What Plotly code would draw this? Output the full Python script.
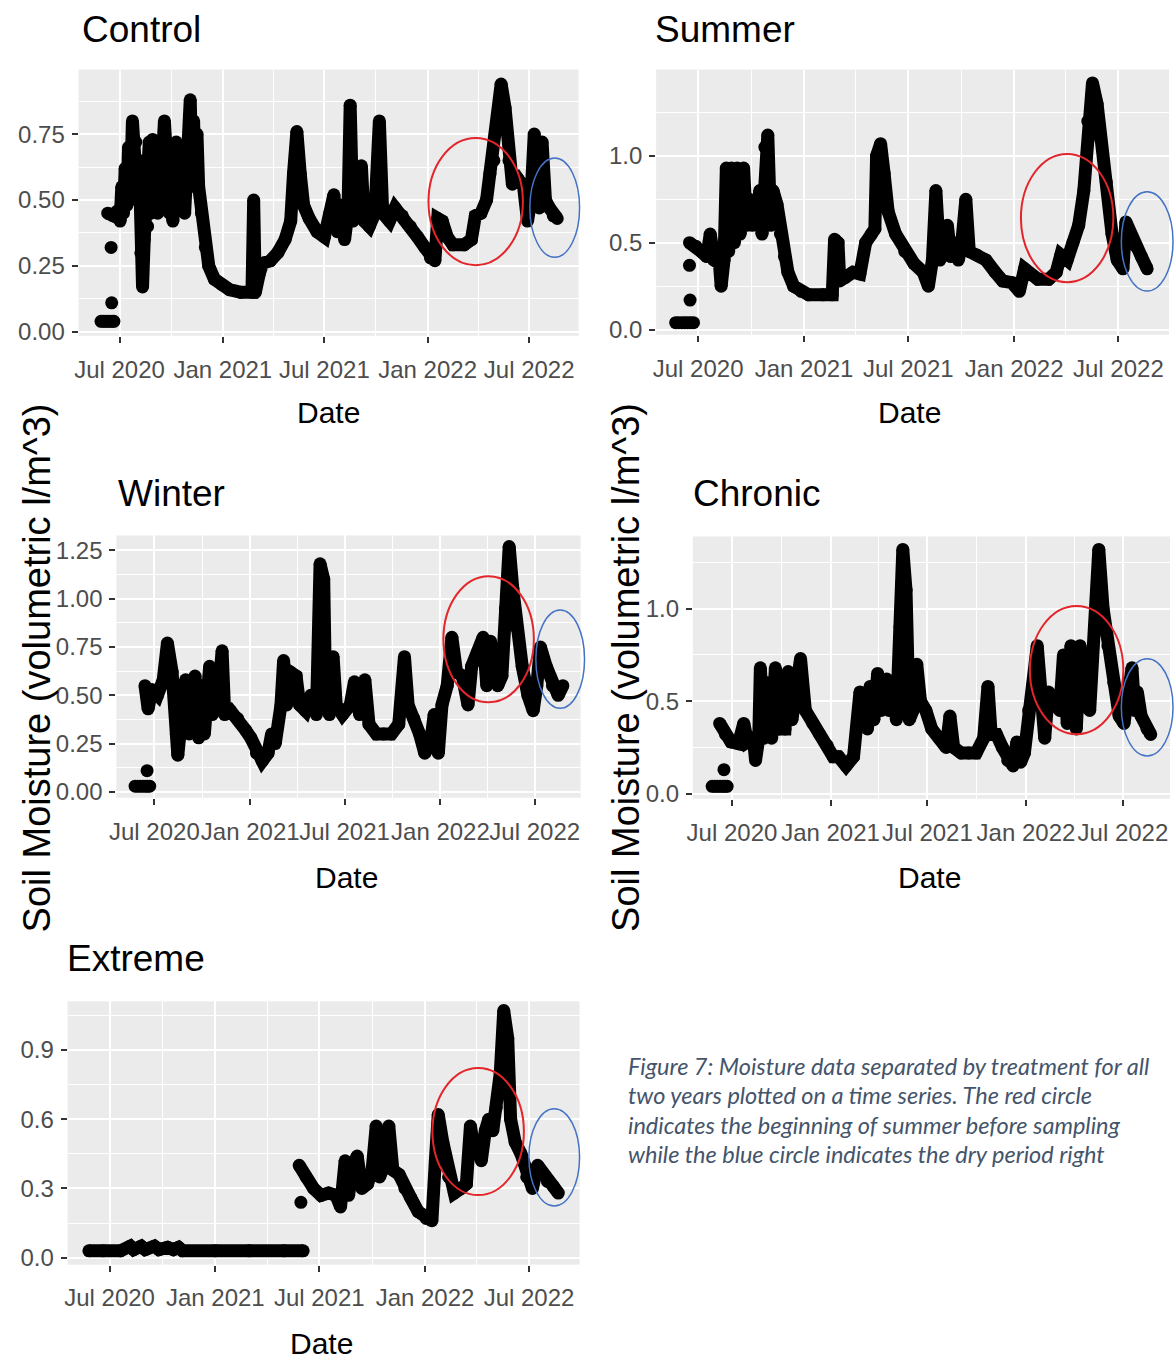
import plotly.graph_objects as go

# ---------------- DATA ----------------
control_early_dates = ["2020-05-29", "2020-06-02", "2020-06-06", "2020-06-10", "2020-06-14", "2020-06-18", "2020-06-21", "2020-06-17", "2020-06-16"]
control_early_values = [0.04, 0.04, 0.04, 0.04, 0.04, 0.04, 0.04, 0.11, 0.32]
control_dates = ["2020-06-10", "2020-06-20", "2020-06-28", "2020-07-02", "2020-07-05", "2020-07-08", "2020-07-11", "2020-07-14", "2020-07-17", "2020-07-20", "2020-07-24", "2020-07-27", "2020-07-30", "2020-08-02", "2020-08-05", "2020-08-08", "2020-08-11", "2020-08-14", "2020-08-17", "2020-08-20", "2020-08-23", "2020-08-26", "2020-08-29", "2020-09-01", "2020-09-04", "2020-09-07", "2020-09-10", "2020-09-13", "2020-09-16", "2020-09-19", "2020-09-22", "2020-09-25", "2020-09-28", "2020-10-01", "2020-10-04", "2020-10-07", "2020-10-10", "2020-10-13", "2020-10-16", "2020-10-19", "2020-10-22", "2020-10-25", "2020-10-28", "2020-11-01", "2020-11-04", "2020-11-07", "2020-11-10", "2020-11-13", "2020-11-16", "2020-11-19", "2020-11-24", "2020-12-01", "2020-12-07", "2020-12-17", "2020-12-30", "2021-01-13", "2021-02-02", "2021-02-22", "2021-02-25", "2021-02-28", "2021-03-07", "2021-03-13", "2021-03-27", "2021-04-09", "2021-04-22", "2021-05-02", "2021-05-07", "2021-05-13", "2021-05-19", "2021-05-25", "2021-06-04", "2021-06-18", "2021-07-01", "2021-07-11", "2021-07-18", "2021-07-24", "2021-07-31", "2021-08-06", "2021-08-12", "2021-08-16", "2021-08-21", "2021-08-30", "2021-09-05", "2021-09-10", "2021-09-19", "2021-09-29", "2021-10-07", "2021-10-13", "2021-10-25", "2021-11-04", "2021-11-17", "2021-12-01", "2021-12-14", "2021-12-27", "2022-01-06", "2022-01-14", "2022-01-19", "2022-01-27", "2022-02-05", "2022-02-15", "2022-03-07", "2022-03-20", "2022-03-27", "2022-04-06", "2022-04-16", "2022-04-22", "2022-04-29", "2022-05-06", "2022-05-12", "2022-05-19", "2022-05-26", "2022-06-01", "2022-06-11", "2022-06-21", "2022-06-28", "2022-07-04", "2022-07-10", "2022-07-14", "2022-07-19", "2022-07-24", "2022-07-30", "2022-08-06", "2022-08-13", "2022-08-20"]
control_values = [0.45, 0.44, 0.46, 0.42, 0.55, 0.45, 0.62, 0.48, 0.7, 0.5, 0.8, 0.55, 0.72, 0.5, 0.65, 0.3, 0.17, 0.35, 0.6, 0.4, 0.72, 0.45, 0.73, 0.5, 0.7, 0.45, 0.72, 0.48, 0.68, 0.8, 0.5, 0.65, 0.45, 0.6, 0.42, 0.55, 0.72, 0.48, 0.7, 0.5, 0.65, 0.45, 0.55, 0.7, 0.88, 0.6, 0.8, 0.55, 0.75, 0.55, 0.45, 0.32, 0.25, 0.2, 0.18, 0.16, 0.15, 0.15, 0.5, 0.15, 0.22, 0.26, 0.27, 0.3, 0.35, 0.42, 0.6, 0.76, 0.6, 0.48, 0.43, 0.38, 0.36, 0.45, 0.52, 0.38, 0.48, 0.35, 0.45, 0.86, 0.42, 0.45, 0.63, 0.42, 0.4, 0.45, 0.8, 0.45, 0.42, 0.47, 0.44, 0.4, 0.36, 0.32, 0.28, 0.27, 0.43, 0.42, 0.36, 0.33, 0.33, 0.35, 0.44, 0.45, 0.5, 0.6, 0.65, 0.8, 0.94, 0.85, 0.65, 0.56, 0.58, 0.55, 0.42, 0.5, 0.75, 0.5, 0.47, 0.72, 0.5, 0.47, 0.44, 0.43]

summer_early_dates = ["2020-05-23", "2020-05-28", "2020-06-03", "2020-06-08", "2020-06-13", "2020-06-18", "2020-06-23", "2020-06-17", "2020-06-16"]
summer_early_values = [0.04, 0.04, 0.04, 0.04, 0.04, 0.04, 0.04, 0.17, 0.37]
summer_dates = ["2020-06-16", "2020-06-27", "2020-07-06", "2020-07-16", "2020-07-22", "2020-07-29", "2020-08-07", "2020-08-10", "2020-08-15", "2020-08-19", "2020-08-23", "2020-08-28", "2020-09-02", "2020-09-07", "2020-09-12", "2020-09-18", "2020-09-23", "2020-09-28", "2020-10-03", "2020-10-11", "2020-10-16", "2020-10-20", "2020-10-25", "2020-10-30", "2020-11-04", "2020-11-08", "2020-11-15", "2020-11-21", "2020-11-28", "2020-12-04", "2020-12-14", "2020-12-27", "2021-01-09", "2021-02-03", "2021-02-19", "2021-02-23", "2021-03-01", "2021-03-04", "2021-03-14", "2021-03-27", "2021-04-08", "2021-04-18", "2021-04-28", "2021-05-04", "2021-05-07", "2021-05-14", "2021-05-20", "2021-05-27", "2021-06-09", "2021-06-25", "2021-07-11", "2021-07-27", "2021-08-05", "2021-08-12", "2021-08-18", "2021-08-25", "2021-08-31", "2021-09-07", "2021-09-13", "2021-09-19", "2021-09-26", "2021-10-02", "2021-10-09", "2021-10-15", "2021-10-28", "2021-11-13", "2021-11-29", "2021-12-12", "2021-12-28", "2022-01-10", "2022-01-19", "2022-01-29", "2022-02-11", "2022-03-02", "2022-03-15", "2022-03-23", "2022-04-03", "2022-04-13", "2022-04-23", "2022-05-02", "2022-05-09", "2022-05-17", "2022-05-25", "2022-05-31", "2022-06-10", "2022-06-20", "2022-06-29", "2022-07-09", "2022-07-14", "2022-07-22", "2022-07-31", "2022-08-10", "2022-08-20"]
summer_values = [0.5, 0.48, 0.45, 0.42, 0.55, 0.4, 0.38, 0.25, 0.4, 0.93, 0.45, 0.93, 0.5, 0.93, 0.55, 0.93, 0.6, 0.75, 0.6, 0.62, 0.8, 0.55, 1.05, 1.12, 0.6, 0.8, 0.72, 0.55, 0.42, 0.33, 0.25, 0.22, 0.2, 0.2, 0.2, 0.52, 0.5, 0.28, 0.3, 0.33, 0.32, 0.5, 0.55, 0.58, 1.0, 1.07, 0.9, 0.68, 0.55, 0.45, 0.38, 0.33, 0.25, 0.4, 0.8, 0.4, 0.45, 0.6, 0.42, 0.5, 0.4, 0.5, 0.75, 0.45, 0.43, 0.4, 0.33, 0.28, 0.27, 0.22, 0.35, 0.32, 0.29, 0.29, 0.33, 0.43, 0.4, 0.5, 0.6, 0.8, 1.2, 1.42, 1.3, 1.1, 0.85, 0.55, 0.4, 0.35, 0.62, 0.55, 0.48, 0.42, 0.35]

winter_early_dates = ["2020-05-25", "2020-05-30", "2020-06-04", "2020-06-09", "2020-06-14", "2020-06-18", "2020-06-22", "2020-06-17"]
winter_early_values = [0.03, 0.03, 0.03, 0.03, 0.03, 0.03, 0.03, 0.11]
winter_dates = ["2020-06-13", "2020-06-19", "2020-06-26", "2020-07-07", "2020-07-18", "2020-07-26", "2020-08-04", "2020-08-12", "2020-08-15", "2020-08-21", "2020-08-30", "2020-09-06", "2020-09-17", "2020-09-24", "2020-09-29", "2020-10-05", "2020-10-15", "2020-10-20", "2020-10-30", "2020-11-08", "2020-11-13", "2020-11-24", "2020-12-08", "2020-12-23", "2021-01-02", "2021-01-13", "2021-01-24", "2021-02-04", "2021-02-11", "2021-02-18", "2021-03-01", "2021-03-06", "2021-03-12", "2021-03-19", "2021-03-30", "2021-04-06", "2021-04-17", "2021-04-27", "2021-05-08", "2021-05-15", "2021-05-22", "2021-05-26", "2021-06-02", "2021-06-09", "2021-06-15", "2021-06-27", "2021-07-12", "2021-07-20", "2021-07-30", "2021-08-09", "2021-08-17", "2021-08-31", "2021-09-14", "2021-09-29", "2021-10-13", "2021-10-24", "2021-10-31", "2021-11-11", "2021-11-22", "2021-12-02", "2021-12-13", "2021-12-20", "2021-12-28", "2022-01-04", "2022-01-14", "2022-01-23", "2022-02-01", "2022-02-12", "2022-02-23", "2022-03-02", "2022-03-13", "2022-03-24", "2022-03-31", "2022-04-07", "2022-04-14", "2022-04-21", "2022-04-29", "2022-05-06", "2022-05-13", "2022-05-20", "2022-05-27", "2022-06-07", "2022-06-18", "2022-06-28", "2022-07-05", "2022-07-12", "2022-07-23", "2022-08-04", "2022-08-15", "2022-08-24"]
winter_values = [0.55, 0.43, 0.53, 0.5, 0.58, 0.77, 0.62, 0.3, 0.19, 0.35, 0.58, 0.3, 0.6, 0.28, 0.55, 0.3, 0.65, 0.4, 0.45, 0.73, 0.4, 0.42, 0.38, 0.32, 0.28, 0.2, 0.16, 0.2, 0.3, 0.25, 0.45, 0.68, 0.45, 0.62, 0.6, 0.45, 0.42, 0.5, 0.4, 1.18, 1.1, 0.45, 0.4, 0.7, 0.45, 0.4, 0.45, 0.57, 0.4, 0.58, 0.35, 0.3, 0.3, 0.3, 0.35, 0.7, 0.45, 0.38, 0.3, 0.2, 0.25, 0.4, 0.2, 0.45, 0.55, 0.8, 0.62, 0.6, 0.45, 0.65, 0.72, 0.8, 0.55, 0.78, 0.65, 0.55, 0.6, 0.95, 1.27, 1.05, 0.85, 0.65, 0.5, 0.42, 0.55, 0.75, 0.65, 0.55, 0.5, 0.55]

chronic_early_dates = ["2020-05-25", "2020-05-30", "2020-06-04", "2020-06-09", "2020-06-14", "2020-06-18", "2020-06-22", "2020-06-16"]
chronic_early_values = [0.04, 0.04, 0.04, 0.04, 0.04, 0.04, 0.04, 0.13]
chronic_dates = ["2020-06-08", "2020-06-19", "2020-06-29", "2020-07-13", "2020-07-23", "2020-07-30", "2020-08-10", "2020-08-14", "2020-08-20", "2020-08-23", "2020-08-30", "2020-09-06", "2020-09-13", "2020-09-20", "2020-09-27", "2020-10-08", "2020-10-14", "2020-10-21", "2020-10-28", "2020-11-06", "2020-11-15", "2020-11-29", "2020-12-12", "2020-12-26", "2021-01-06", "2021-01-16", "2021-01-30", "2021-02-13", "2021-02-20", "2021-02-25", "2021-03-04", "2021-03-11", "2021-03-16", "2021-03-23", "2021-03-30", "2021-04-06", "2021-04-13", "2021-04-16", "2021-04-20", "2021-04-29", "2021-05-04", "2021-05-11", "2021-05-16", "2021-05-22", "2021-05-28", "2021-06-04", "2021-06-11", "2021-06-18", "2021-06-28", "2021-07-09", "2021-07-23", "2021-08-05", "2021-08-12", "2021-08-19", "2021-09-02", "2021-09-16", "2021-09-30", "2021-10-14", "2021-10-22", "2021-10-28", "2021-11-07", "2021-11-18", "2021-11-28", "2021-12-08", "2021-12-15", "2021-12-22", "2021-12-29", "2022-01-06", "2022-01-15", "2022-01-22", "2022-01-29", "2022-02-05", "2022-02-12", "2022-02-23", "2022-03-05", "2022-03-12", "2022-03-19", "2022-03-26", "2022-04-02", "2022-04-05", "2022-04-12", "2022-04-19", "2022-04-30", "2022-05-09", "2022-05-17", "2022-05-25", "2022-06-03", "2022-06-14", "2022-06-24", "2022-07-03", "2022-07-11", "2022-07-18", "2022-07-23", "2022-07-28", "2022-08-04", "2022-08-15", "2022-08-22"]
chronic_values = [0.38, 0.32, 0.28, 0.27, 0.38, 0.28, 0.3, 0.18, 0.3, 0.68, 0.3, 0.6, 0.3, 0.68, 0.35, 0.35, 0.66, 0.4, 0.6, 0.73, 0.45, 0.38, 0.32, 0.26, 0.2, 0.2, 0.15, 0.2, 0.35, 0.55, 0.4, 0.35, 0.58, 0.4, 0.65, 0.45, 0.5, 0.62, 0.45, 0.55, 0.4, 0.9, 1.32, 1.1, 0.4, 0.45, 0.7, 0.5, 0.45, 0.35, 0.3, 0.25, 0.42, 0.25, 0.22, 0.22, 0.22, 0.3, 0.58, 0.32, 0.32, 0.25, 0.18, 0.15, 0.28, 0.17, 0.22, 0.45, 0.6, 0.8, 0.55, 0.3, 0.55, 0.5, 0.45, 0.75, 0.38, 0.8, 0.5, 0.35, 0.8, 0.5, 0.45, 0.9, 1.32, 1.0, 0.8, 0.6, 0.42, 0.38, 0.6, 0.68, 0.45, 0.55, 0.42, 0.35, 0.32]

extreme_early_dates = ["2021-05-30"]
extreme_early_values = [0.24]
extreme_dates = ["2020-05-26", "2020-06-20", "2020-07-20", "2020-08-06", "2020-08-12", "2020-08-25", "2020-09-01", "2020-09-17", "2020-09-25", "2020-10-10", "2020-10-20", "2020-10-29", "2020-11-05", "2021-01-01", "2021-03-01", "2021-05-01", "2021-06-03", "2021-06-04",
                 "2021-05-27", "2021-06-08", "2021-06-21", "2021-07-04", "2021-07-17", "2021-07-30", "2021-08-07", "2021-08-15", "2021-08-21", "2021-08-28", "2021-09-05", "2021-09-13", "2021-09-23", "2021-10-01", "2021-10-08", "2021-10-14", "2021-10-22", "2021-10-30", "2021-11-06", "2021-11-17", "2021-11-27", "2021-12-07", "2021-12-20", "2022-01-03", "2022-01-13", "2022-01-19", "2022-01-24", "2022-02-01", "2022-02-11", "2022-02-21", "2022-03-05", "2022-03-14", "2022-03-21", "2022-03-29", "2022-04-04", "2022-04-09", "2022-04-16", "2022-04-22", "2022-04-29", "2022-05-05", "2022-05-12", "2022-05-18", "2022-05-25", "2022-05-30", "2022-06-07", "2022-06-17", "2022-06-27", "2022-07-07", "2022-07-16", "2022-07-23", "2022-08-02", "2022-08-12", "2022-08-21"]
extreme_values = [0.03, 0.03, 0.03, 0.05, 0.035, 0.05, 0.035, 0.05, 0.035, 0.045, 0.035, 0.045, 0.03, 0.03, 0.03, 0.03, 0.03, None,
                  0.4, 0.35, 0.3, 0.27, 0.28, 0.27, 0.22, 0.42, 0.27, 0.4, 0.44, 0.3, 0.32, 0.38, 0.57, 0.35, 0.4, 0.57, 0.38, 0.36, 0.3, 0.26, 0.2, 0.17, 0.16, 0.42, 0.62, 0.5, 0.35, 0.28, 0.3, 0.32, 0.57, 0.45, 0.5, 0.42, 0.55, 0.6, 0.55, 0.65, 0.8, 1.07, 0.95, 0.6, 0.5, 0.45, 0.35, 0.3, 0.4, 0.37, 0.33, 0.31, 0.28]

x_tick_dates = ["2020-07-01", "2021-01-01", "2021-07-01", "2022-01-01", "2022-07-01"]
x_tick_labels = ["Jul 2020", "Jan 2021", "Jul 2021", "Jan 2022", "Jul 2022"]
x_minor_dates = ["2020-10-01", "2021-04-01", "2021-10-01", "2022-04-01"]

panel_titles = ["Control", "Summer", "Winter", "Chronic", "Extreme"]
y_tick_sets = [
    ([0, 0.25, 0.5, 0.75], ["0.00", "0.25", "0.50", "0.75"], [0.125, 0.375, 0.625, 0.875]),
    ([0, 0.5, 1.0], ["0.0", "0.5", "1.0"], [0.25, 0.75, 1.25]),
    ([0, 0.25, 0.5, 0.75, 1.0, 1.25], ["0.00", "0.25", "0.50", "0.75", "1.00", "1.25"], [0.125, 0.375, 0.625, 0.875, 1.125]),
    ([0, 0.5, 1.0], ["0.0", "0.5", "1.0"], [0.25, 0.75, 1.25]),
    ([0, 0.3, 0.6, 0.9], ["0.0", "0.3", "0.6", "0.9"], [0.15, 0.45, 0.75, 1.05]),
]
caption_lines = [
    "Figure 7: Moisture data separated by treatment for all",
    "two years plotted on a time series. The red circle",
    "indicates the beginning of summer before sampling",
    "while the blue circle indicates the dry period right",
]
y_title = "Soil Moisture (volumetric l/m^3)"
x_title = "Date"

# ---------------- LAYOUT (pixel geometry) ----------------
W, H = 1175, 1371
def fx(p):
    return p / W
def fy(p):
    return 1 - p / H

series = [
    (control_dates, control_values, control_early_dates, control_early_values),
    (summer_dates, summer_values, summer_early_dates, summer_early_values),
    (winter_dates, winter_values, winter_early_dates, winter_early_values),
    (chronic_dates, chronic_values, chronic_early_dates, chronic_early_values),
    (extreme_dates, extreme_values, extreme_early_dates, extreme_early_values),
]
# plot area boxes: left, right, top, bottom (px)
boxes = [(72, 575, 70, 338), (653, 1169, 70, 337), (110, 577, 539, 803), (690, 1170, 540, 804), (61, 576, 1008, 1273)]
y_ranges = [[-0.015, 0.995], [-0.03, 1.497], [-0.03, 1.327], [-0.027, 1.39], [-0.03, 1.11]]
x_range = ["2020-04-19", "2022-09-27"]
title_pos = [(73, 30), (650, 30), (110, 497), (688, 497), (58, 965)]
date_pos = [(323, 415), (908, 415), (342, 883), (928, 883), (316, 1352)]
red_ell = [(424, 519, 139, 267), (1020, 1113, 155, 284), (439, 530, 580, 707), (1029, 1123, 610, 739), (428, 520, 1075, 1203)]
blue_ell = [(526, 576, 159, 259), (1121, 1173, 193, 293), (532, 581, 614, 713), (1121, 1173, 663, 761), (525, 576, 1116, 1214)]

FONT = "Liberation Sans, Arial, sans-serif"
LW = 13
MS = 13
fig = go.Figure()
annotations = []
shapes = []
layout = {}
for i in range(5):
    sfx = "" if i == 0 else str(i + 1)
    xa, ya = "x" + sfx, "y" + sfx
    d, v, ed, ev = series[i]
    fig.add_trace(go.Scatter(x=d, y=v, mode="lines+markers", xaxis=xa, yaxis=ya,
                             line=dict(color="black", width=LW), marker=dict(color="black", size=MS),
                             hoverinfo="skip"))
    fig.add_trace(go.Scatter(x=ed, y=ev, mode="markers", xaxis=xa, yaxis=ya,
                             marker=dict(color="black", size=MS), hoverinfo="skip"))
    l, r, t, b = boxes[i]
    tv, tt, mv = y_tick_sets[i]
    layout["xaxis" + sfx] = dict(
        domain=[fx(l), fx(r)], anchor=ya, type="date", range=x_range,
        tickmode="array", tickvals=x_tick_dates, ticktext=x_tick_labels, tickangle=0,
        ticks="outside", ticklen=6, tickwidth=2, tickcolor="#333333", ticklabelstandoff=6,
        tickfont=dict(family=FONT, size=24, color="#4D4D4D"),
        showgrid=True, gridcolor="white", gridwidth=2, zeroline=False, showline=False,
        minor=dict(tickmode="array", tickvals=x_minor_dates, showgrid=True, gridcolor="white", gridwidth=1, ticks=""),
        fixedrange=True,
    )
    layout["yaxis" + sfx] = dict(
        domain=[fy(b), fy(t)], anchor=xa, range=y_ranges[i],
        tickmode="array", tickvals=tv, ticktext=tt,
        ticks="outside", ticklen=6, tickwidth=2, tickcolor="#333333", ticklabelstandoff=2,
        tickfont=dict(family=FONT, size=24, color="#4D4D4D"),
        showgrid=True, gridcolor="white", gridwidth=2, zeroline=False, showline=False,
        minor=dict(tickmode="array", tickvals=mv, showgrid=True, gridcolor="white", gridwidth=1, ticks=""),
        fixedrange=True,
    )
    tx, ty = title_pos[i]
    annotations.append(dict(text=panel_titles[i], x=fx(tx), y=fy(ty), xref="paper", yref="paper",
                            xanchor="left", yanchor="middle", showarrow=False,
                            font=dict(family=FONT, size=37, color="black")))
    dx, dy = date_pos[i]
    annotations.append(dict(text=x_title, x=fx(dx), y=fy(dy), xref="paper", yref="paper",
                            xanchor="center", yanchor="middle", showarrow=False,
                            font=dict(family=FONT, size=30, color="black")))
    for (x0, x1, y0, y1), col, w in [(red_ell[i], "#E3262B", 2), (blue_ell[i], "#4472C4", 1.5)]:
        shapes.append(dict(type="circle", xref="paper", yref="paper", x0=fx(x0), x1=fx(x1),
                           y0=fy(y1), y1=fy(y0), line=dict(color=col, width=w), layer="above"))

for xc in (30, 622):
    annotations.append(dict(text=y_title, x=fx(xc), y=fy(672), xref="paper", yref="paper",
                            xanchor="center", yanchor="middle", textangle=-90, showarrow=False,
                            font=dict(family=FONT, size=38, color="black")))

for k, line in enumerate(caption_lines):
    annotations.append(dict(text="<i>" + line + "</i>", x=fx(623), y=fy(1073 + k * 29.5),
                            xref="paper", yref="paper", xanchor="left", yanchor="middle",
                            showarrow=False, font=dict(family="Lato, Open Sans, sans-serif", size=23.5, color="#44546A")))

fig.update_layout(width=W, height=H, margin=dict(l=0, r=0, t=0, b=0), showlegend=False,
                  paper_bgcolor="white", plot_bgcolor="#EBEBEB",
                  annotations=annotations, shapes=shapes, **layout)

fig.write_html("out.html", config={"displayModeBar": False},
               post_script="document.body.style.margin='0';")
